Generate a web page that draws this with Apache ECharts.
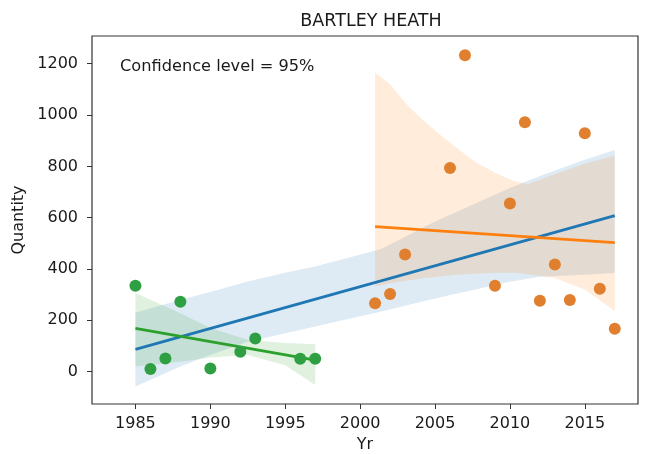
<!DOCTYPE html>
<html>
<head>
<meta charset="utf-8">
<script src="https://cdn.jsdelivr.net/npm/echarts@6/dist/echarts.min.js"></script>
<style>
  html, body { margin: 0; padding: 0; background: #fff; }
  #chart { width: 665px; height: 454px; }
</style>
</head>
<body>
<div id="chart"></div>
<script>
// scatter points
const greenYears = [1985, 1986, 1987, 1988, 1990, 1992, 1993, 1996, 1997];
const greenQty = [335, 10, 51, 272, 12, 78, 129, 50, 50];
const orangeYears = [2001, 2002, 2003, 2006, 2007, 2009, 2010, 2011, 2012, 2013, 2014, 2015, 2016, 2017];
const orangeQty = [267, 303, 457, 794, 1233, 335, 655, 972, 276, 418, 279, 929, 323, 167];

// fitted lines (end points)
const blueLineX = [1985, 2017];
const blueLineY = [87, 608];
const orangeLineX = [2001, 2017];
const orangeLineY = [565, 503];
const greenLineX = [1985, 1997];
const greenLineY = [169, 45];

// confidence bands
const blueBandX = [1985, 1988, 1990, 1992.5, 1995, 1997, 2001.4, 2005, 2010, 2012, 2015, 2017];
const blueBandHi = [230, 280, 310, 351, 385, 410, 478, 585, 716, 762, 826, 864];
const blueBandLo = [-58, 20, 65, 117, 150, 176, 234, 285, 350, 370, 378, 384];
const orangeBandX = [2001, 2002, 2003.2, 2004.3, 2005.4, 2006.5, 2007.6, 2009, 2010.3, 2011.2, 2013, 2015, 2017];
const orangeBandHi = [1165, 1120, 1035, 975, 920, 870, 820, 775, 742, 730, 770, 810, 842];
const orangeBandLo = [332, 345, 355, 365, 372, 378, 382, 385, 385, 380, 365, 320, 236];
const greenBandX = [1985, 1988, 1990, 1992.5, 1995, 1997];
const greenBandHi = [307, 228, 170, 124, 112, 107];
const greenBandLo = [20, 39, 55, 65, 25, -52];

const xTicks = [1985, 1990, 1995, 2000, 2005, 2010, 2015];
const yTicks = [0, 200, 400, 600, 800, 1000, 1200];

const FONT = 'DejaVu Sans';

function pairs(xs, ys) {
  return xs.map((x, i) => [x, ys[i]]);
}

function bandSeries(xs, hi, lo, color, z) {
  return {
    type: 'custom',
    silent: true,
    z: z,
    data: [[xs[0], lo[0]]],
    renderItem: function (params, api) {
      const pts = [];
      for (let i = 0; i < xs.length; i++) pts.push(api.coord([xs[i], hi[i]]));
      for (let i = xs.length - 1; i >= 0; i--) pts.push(api.coord([xs[i], lo[i]]));
      return {
        type: 'polygon',
        shape: { points: pts },
        style: { fill: color }
      };
    }
  };
}

function lineSeries(xs, ys, color, z) {
  return {
    type: 'line',
    data: pairs(xs, ys),
    symbol: 'none',
    z: z,
    lineStyle: { color: color, width: 2.8 },
    silent: true
  };
}

function dotSeries(xs, ys, color, z) {
  return {
    type: 'scatter',
    data: pairs(xs, ys),
    symbolSize: 12,
    z: z,
    itemStyle: { color: color, opacity: 1 }
  };
}

const chart = echarts.init(document.getElementById('chart'));

chart.setOption({
  animation: false,
  backgroundColor: '#fff',
  title: {
    text: 'BARTLEY HEATH',
    left: 366,
    textAlign: 'center',
    top: 7,
    textStyle: { fontFamily: FONT, fontSize: 17.5, fontWeight: 'normal', color: '#1a1a1a' }
  },
  grid: {
    left: 92, right: 27, top: 36, bottom: 50,
    outerBoundsMode: 'none',
    containLabel: false,
    show: true, borderColor: '#333', borderWidth: 1.2, backgroundColor: '#fff'
  },
  xAxis: {
    type: 'value',
    min: 1982.1,
    max: 2018.55,
    name: 'Yr',
    nameLocation: 'middle',
    nameGap: 33,
    nameTextStyle: { fontFamily: FONT, fontSize: 16, color: '#1a1a1a' },
    splitLine: { show: false },
    axisLine: { show: false, onZero: false },
    axisTick: { show: true, inside: false, length: 5, lineStyle: { color: '#333' }, customValues: xTicks },
    axisLabel: { fontFamily: FONT, fontSize: 16, color: '#1a1a1a', margin: 12, customValues: xTicks,
      formatter: v => String(v) }
  },
  yAxis: {
    type: 'value',
    min: -126,
    max: 1308,
    name: 'Quantity',
    nameLocation: 'middle',
    nameGap: 55,
    nameTextStyle: { fontFamily: FONT, fontSize: 16, color: '#1a1a1a' },
    splitLine: { show: false },
    axisLine: { show: false, onZero: false },
    axisTick: { show: true, inside: false, length: 5, lineStyle: { color: '#333' }, customValues: yTicks },
    axisLabel: { fontFamily: FONT, fontSize: 16, color: '#1a1a1a', margin: 14, customValues: yTicks,
      formatter: v => String(v) }
  },
  graphic: [{
    type: 'text',
    left: 120,
    top: 59,
    style: { text: 'Confidence level = 95%', fontFamily: FONT, fontSize: 16.2, fill: '#1a1a1a' }
  }],
  series: [
    bandSeries(blueBandX, blueBandHi, blueBandLo, 'rgba(31,119,180,0.15)', 1),
    bandSeries(orangeBandX, orangeBandHi, orangeBandLo, 'rgba(255,127,14,0.15)', 2),
    bandSeries(greenBandX, greenBandHi, greenBandLo, 'rgba(44,160,44,0.15)', 3),
    lineSeries(blueLineX, blueLineY, '#1f77b4', 4),
    lineSeries(orangeLineX, orangeLineY, '#ff7f0e', 5),
    lineSeries(greenLineX, greenLineY, '#2ca02c', 6),
    dotSeries(orangeYears, orangeQty, '#e07f2e', 7),
    dotSeries(greenYears, greenQty, '#2ea043', 8)
  ]
});
</script>
</body>
</html>
